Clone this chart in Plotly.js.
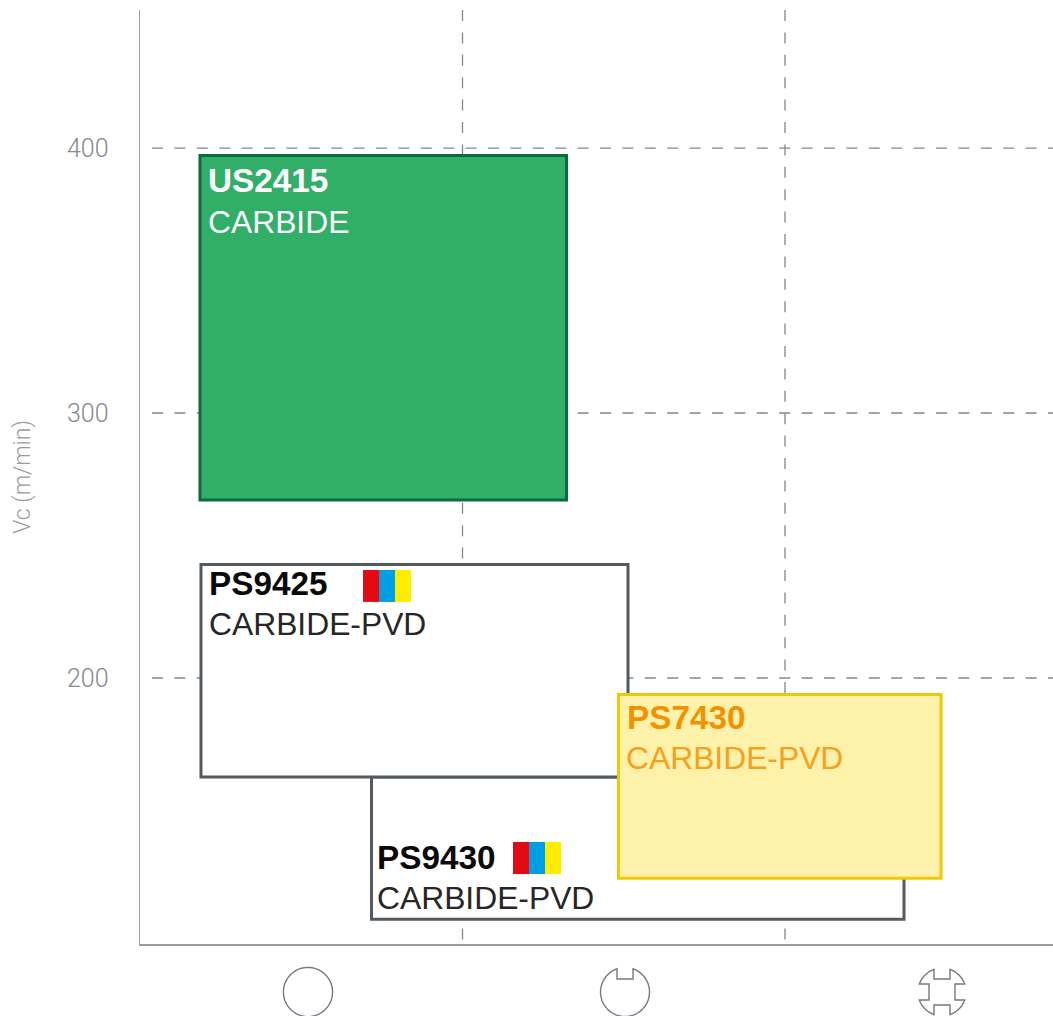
<!DOCTYPE html>
<html><head><meta charset="utf-8">
<script src="https://cdn.plot.ly/plotly-3.0.1.min.js"></script>
<style>html,body{margin:0;padding:0;background:#fff;overflow:hidden}</style>
</head><body><div id="chart" style="width:1053px;height:1016px"></div>
<script>
// Data
const grades   = ['US2415','PS9430','PS9425','PS7430'];
const kinds    = ['CARBIDE','CARBIDE-PVD','CARBIDE-PVD','CARBIDE-PVD'];
const xLow     = [0.186, 0.7178, 0.1891, 1.4837];
const xHigh    = [1.3225, 2.3690, 1.5132, 2.4837];
const vcLow    = [267.2, 108.9, 162.6, 124.4];
const vcHigh   = [397.2, 162.6, 242.8, 193.8];
const fills    = ['#31ae68','#ffffff','#ffffff','#fef2aa'];
const borders  = ['#0a6b3c','#535a60','#535a60','#eec90a'];
const inks     = ['#ffffff','#0a0a0a','#0a0a0a','#f39200'];
const kindInks = ['#ffffff','#262626','#262626','#f6a01e'];
const gradeX   = [0.206, 0.730, 0.209, 1.5054];
const gradeY   = [387.74, 132.08, 235.47, 184.9];
const kindX    = [0.204, 0.728, 0.207, 1.5023];
const kindY    = [372.26, 116.98, 220.19, 169.81];
const yTicks   = [200, 300, 400];
const xGrid    = [1, 2];
const xIcons   = [0.5209, 1.5039, 2.4868];
const stripeColors = ['#e30a13','#009fe3','#ffed00'];
const stripeX0 = [0.6915, 1.1566];
const stripeVcLow  = [228.7, 126.0];
const stripeVcHigh = [240.75, 138.1];
const stripeW  = 0.0496;
const xRange = [0, 2.831];
const yRange = [99.6, 452.1];

const traces = [];
grades.forEach((g,i)=>{
  traces.push({type:'scatter',mode:'lines',name:g,fill:'toself',fillcolor:fills[i],
    x:[xLow[i],xHigh[i],xHigh[i],xLow[i],xLow[i],xHigh[i]],
    y:[vcHigh[i],vcHigh[i],vcLow[i],vcLow[i],vcHigh[i],vcHigh[i]],
    line:{color:borders[i],width:3},hoverinfo:'skip',showlegend:false});
});
stripeX0.forEach((x0,k)=>{
  stripeColors.forEach((c,j)=>{
    const a=x0+j*stripeW,b=a+stripeW;
    traces.push({type:'scatter',mode:'lines',fill:'toself',fillcolor:c,line:{width:0,color:c},
      x:[a,b,b,a,a],y:[stripeVcHigh[k],stripeVcHigh[k],stripeVcLow[k],stripeVcLow[k],stripeVcHigh[k]],
      hoverinfo:'skip',showlegend:false});
  });
});

const gridLine={color:'#82878c',width:1.3,dash:'11px,11.4px'};
const shapes=[];
yTicks.forEach(v=>shapes.push({type:'line',layer:'below',xref:'x',yref:'y',x0:0.0372,x1:xRange[1],y0:v,y1:v,line:gridLine}));
xGrid.forEach(v=>shapes.push({type:'line',layer:'below',xref:'x',yref:'y',x0:v,x1:v,y0:yRange[1],y1:yRange[0],line:gridLine}));

// Icons below the axis (pixel-sized paths, y pointing up)
function arc(r,a0,a1){let s='';const n=Math.max(2,Math.ceil(Math.abs(a1-a0)/0.1));
  for(let i=1;i<=n;i++){const a=a0+(a1-a0)*i/n;s+='L'+(r*Math.cos(a)).toFixed(2)+','+(r*Math.sin(a)).toFixed(2);}return s;}
function circlePath(r){return 'M'+r+',0'+arc(r,0,2*Math.PI)+'Z';}
function notchedPath(r,hw,d,sides){
  const da=Math.asin(hw/r);let s='';
  const u=(a)=>[Math.cos(a),Math.sin(a)];
  sides.forEach((c,i)=>{
    const [ux,uy]=u(c);const px=-uy,py=ux;
    const next=sides[(i+1)%sides.length]-(i===sides.length-1?2*Math.PI:0);
    const h=Math.sqrt(r*r-hw*hw);
    const p1=[ux*h+px*hw,uy*h+py*hw],p2=[ux*d+px*hw,uy*d+py*hw],p3=[ux*d-px*hw,uy*d-py*hw],p4=[ux*h-px*hw,uy*h-py*hw];
    s+=(i===0?'M':'L')+p1[0].toFixed(2)+','+p1[1].toFixed(2)+'L'+p2[0].toFixed(2)+','+p2[1].toFixed(2)+'L'+p3[0].toFixed(2)+','+p3[1].toFixed(2)+'L'+p4[0].toFixed(2)+','+p4[1].toFixed(2);
    s+=arc(r,c-da,next+da);
  });
  return s+'Z';
}
const iconPaths=[circlePath(24.6),
  notchedPath(24.5,8,13,[Math.PI/2]),
  notchedPath(24,8,13,[Math.PI/2,0,-Math.PI/2,-Math.PI])];
iconPaths.forEach((p,i)=>shapes.push({type:'path',layer:'above',xref:'x',yref:'paper',xsizemode:'pixel',ysizemode:'pixel',
  xanchor:xIcons[i],yanchor:-0.0514,path:p,line:{color:'#747a80',width:1.4},fillcolor:'rgba(0,0,0,0)'}));

const annotations=[];
grades.forEach((g,i)=>{
  annotations.push({xref:'x',yref:'y',x:gradeX[i],y:gradeY[i],text:g,showarrow:false,xanchor:'left',yanchor:'middle',
    font:{family:'"Liberation Sans",Arial,sans-serif',size:33.3,color:inks[i],weight:700}});
  annotations.push({xref:'x',yref:'y',x:kindX[i],y:kindY[i],text:kinds[i],showarrow:false,xanchor:'left',yanchor:'middle',
    font:{family:'"Liberation Sans",Arial,sans-serif',size:31.8,color:kindInks[i],weight:400}});
});

const layout={
  width:1053,height:1016,margin:{l:140,r:0,t:10,b:72},paper_bgcolor:'#fff',plot_bgcolor:'#fff',showlegend:false,
  xaxis:{range:xRange,showgrid:false,zeroline:false,showticklabels:false,ticks:'',showline:true,linecolor:'#9a9da0',linewidth:1.5,fixedrange:true},
  yaxis:{range:yRange,tickvals:yTicks,ticktext:yTicks.map(String),showgrid:false,zeroline:false,showline:true,linecolor:'#9a9da0',linewidth:1.5,
    ticks:'',ticklabelstandoff:25,tickfont:{family:'Roboto,sans-serif',size:25,color:'#83898e',weight:300},
    title:{text:'Vc (m/min)',standoff:30,font:{family:'Roboto,sans-serif',size:23,color:'#999da1',weight:300}},fixedrange:true},
  shapes,annotations
};
Plotly.newPlot('chart',traces,layout,{displayModeBar:false,staticPlot:true});
</script></body></html>
